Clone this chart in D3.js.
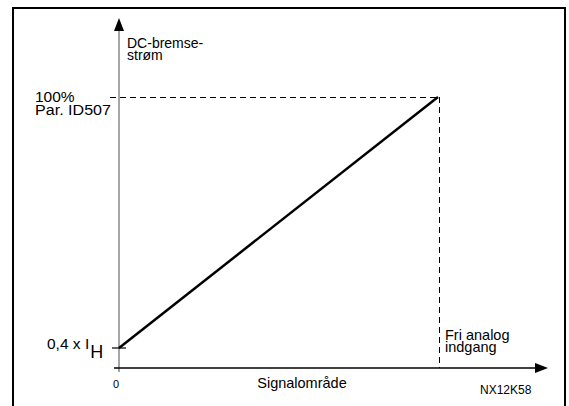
<!DOCTYPE html>
<html>
<head>
<meta charset="utf-8">
<script src="https://cdn.jsdelivr.net/npm/d3@7"></script>
<style>
  html, body { margin: 0; padding: 0; background: #fff; }
  svg { display: block; }
  text { font-family: "Liberation Sans", Arial, Helvetica, sans-serif; fill: #000; }
</style>
</head>
<body>
<svg id="chart" width="569" height="406"></svg>
<script>
// Signal range (fraction of the analog input) and braking current (fraction of Par. ID507)
const signal = [0, 1];
const current = [0.4, 1.0];
const yLabels = ["100%", "Par. ID507"];
const minLabel = "0,4 x I";
const minSub = "H";
const axisTitleY = ["DC-bremse-", "strøm"];
const axisTitleX = "Signalområde";
const endLabel = ["Fri analog", "indgang"];
const zeroLabel = "0";
const figId = "NX12K58";

const svg = d3.select("#chart");

const x = d3.scaleLinear().domain([0, 1]).range([119, 438]);
const y = d3.scaleLinear().domain([0.4, 1.0]).range([348, 97]);

const axisY0 = 368;   // baseline of the signal axis

// frame
svg.append("path")
  .attr("d", "M13,412 V8 H565 V412")
  .attr("fill", "none").attr("stroke", "#000").attr("stroke-width", 2);

// vertical axis (grey) with arrow
svg.append("line")
  .attr("x1", x(0)).attr("x2", x(0))
  .attr("y1", 28).attr("y2", 372)
  .attr("stroke", "#888").attr("stroke-width", 1.5);
svg.append("path")
  .attr("d", `M${x(0)},18 L${x(0) - 5},31 L${x(0) + 5},31 Z`)
  .attr("fill", "#000");

// horizontal axis with arrow
svg.append("line")
  .attr("x1", 114).attr("x2", 537)
  .attr("y1", axisY0).attr("y2", axisY0)
  .attr("stroke", "#000").attr("stroke-width", 1.5);
svg.append("path")
  .attr("d", `M548,${axisY0} L535,${axisY0 - 5} L535,${axisY0 + 5} Z`)
  .attr("fill", "#000");

// tick at the minimum current
svg.append("line")
  .attr("x1", 112).attr("x2", 126)
  .attr("y1", y(current[0])).attr("y2", y(current[0]))
  .attr("stroke", "#000").attr("stroke-width", 1.2);

// dashed guides to the 100 % point (offset half a pixel to stay crisp)
svg.append("line")
  .attr("x1", 110).attr("x2", x(signal[1]))
  .attr("y1", y(current[1]) + 0.5).attr("y2", y(current[1]) + 0.5)
  .attr("stroke", "#000").attr("stroke-width", 1).attr("stroke-dasharray", "6,4");
svg.append("line")
  .attr("x1", x(signal[1]) + 1.5).attr("x2", x(signal[1]) + 1.5)
  .attr("y1", y(current[1])).attr("y2", axisY0)
  .attr("stroke", "#000").attr("stroke-width", 1).attr("stroke-dasharray", "6,4");

// characteristic line
const line = d3.line().x((d, i) => x(signal[i])).y(d => y(d));
svg.append("path")
  .datum(current)
  .attr("d", line)
  .attr("fill", "none").attr("stroke", "#000").attr("stroke-width", 2.5);

// labels
svg.append("text").attr("x", 127).attr("y", 48).attr("font-size", 14).text(axisTitleY[0]);
svg.append("text").attr("x", 127).attr("y", 60).attr("font-size", 14).text(axisTitleY[1]);

svg.append("text").attr("x", 35).attr("y", 102).attr("font-size", 15.5).text(yLabels[0]);
svg.append("text").attr("x", 35).attr("y", 115).attr("font-size", 15.5)
  .attr("textLength", 76).attr("lengthAdjust", "spacingAndGlyphs").text(yLabels[1]);

const mt = svg.append("text").attr("x", 47).attr("y", 349).attr("font-size", 15.5);
mt.append("tspan").text(minLabel);
mt.append("tspan").attr("dx", 1).attr("dy", 9).attr("font-size", 18).text(minSub);

svg.append("text").attr("x", 116).attr("y", 388).attr("font-size", 11)
  .attr("text-anchor", "middle").text(zeroLabel);
svg.append("text").attr("x", 302).attr("y", 388).attr("font-size", 14.5)
  .attr("text-anchor", "middle").text(axisTitleX);

svg.append("text").attr("x", 445).attr("y", 340).attr("font-size", 14.5).text(endLabel[0]);
svg.append("text").attr("x", 445).attr("y", 352).attr("font-size", 14.5).text(endLabel[1]);

svg.append("text").attr("x", 480).attr("y", 394).attr("font-size", 12).text(figId);
</script>
</body>
</html>
